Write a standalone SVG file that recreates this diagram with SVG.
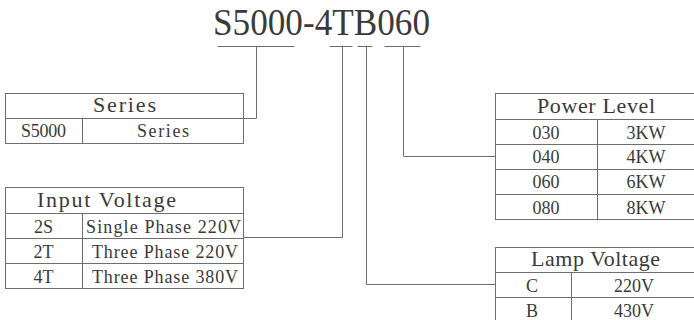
<svg xmlns="http://www.w3.org/2000/svg" width="694" height="320" viewBox="0 0 694 320">
<style>
.ln{stroke:#6e6e6e;stroke-width:1;fill:none}
.tb{stroke:#6e6e6e;stroke-width:1;fill:#fff}
text{font-family:"Liberation Serif","DejaVu Serif",serif;fill:#3a3a3a}
.h{font-size:22px}
.r{font-size:18px}
.m{text-anchor:middle}
</style>
<rect width="694" height="320" fill="#fff"/>
<g id="title">
<text x="213" y="35" font-size="38" textLength="217" lengthAdjust="spacingAndGlyphs">S5000-4TB060</text>
</g>
<g id="connectors" class="ln">
<path d="M217.5 46.5H294.5M256.5 46.5V118.5H244"/>
<path d="M329.5 46.5H352.5M342.5 46.5V237.5H244"/>
<path d="M357.5 46.5H372.5M366.5 46.5V284.5H495"/>
<path d="M384.5 46.5H420.5M403.5 46.5V156.5H495"/>
</g>
<g id="series">
<rect class="tb" x="5.5" y="93.5" width="238" height="50"/>
<path class="ln" d="M5.5 118.5H243.5M82.5 118.5V143.5"/>
<text class="h m" x="124.5" y="112" textLength="63">Series</text>
<text class="r m" x="43.5" y="137" textLength="45">S5000</text>
<text class="r m" x="163" y="137" textLength="52">Series</text>
</g>
<g id="input-voltage">
<rect class="tb" x="5.5" y="187.5" width="238" height="101"/>
<path class="ln" d="M5.5 213.5H243.5M5.5 238.5H243.5M5.5 263.5H243.5M82.5 213.5V288.5"/>
<text class="h" x="37" y="207" textLength="139">Input Voltage</text>
<text class="r m" x="43.5" y="233">2S</text>
<text class="r" x="86" y="233" textLength="155">Single Phase 220V</text>
<text class="r m" x="43.5" y="258">2T</text>
<text class="r" x="92" y="258" textLength="146">Three Phase 220V</text>
<text class="r m" x="43.5" y="283">4T</text>
<text class="r" x="92" y="283" textLength="146">Three Phase 380V</text>
</g>
<g id="power-level">
<rect class="tb" x="495.5" y="93.5" width="205" height="126"/>
<path class="ln" d="M495.5 119.5H700M495.5 144.5H700M495.5 169.5H700M495.5 194.5H700M597.5 119.5V219.5"/>
<text class="h" x="537" y="113" textLength="118">Power Level</text>
<text class="r m" x="546" y="139">030</text>
<text class="r m" x="646" y="139">3KW</text>
<text class="r m" x="546" y="163">040</text>
<text class="r m" x="646" y="163">4KW</text>
<text class="r m" x="546" y="188">060</text>
<text class="r m" x="646" y="188">6KW</text>
<text class="r m" x="546" y="214">080</text>
<text class="r m" x="646" y="214">8KW</text>
</g>
<g id="lamp-voltage">
<rect class="tb" x="495.5" y="247.5" width="205" height="80"/>
<path class="ln" d="M495.5 272.5H700M495.5 297.5H700M571.5 272.5V327"/>
<text class="h" x="531" y="266" textLength="129">Lamp Voltage</text>
<text class="r m" x="532" y="292">C</text>
<text class="r m" x="634" y="292">220V</text>
<text class="r m" x="532" y="317">B</text>
<text class="r m" x="634" y="317">430V</text>
</g>
</svg>
